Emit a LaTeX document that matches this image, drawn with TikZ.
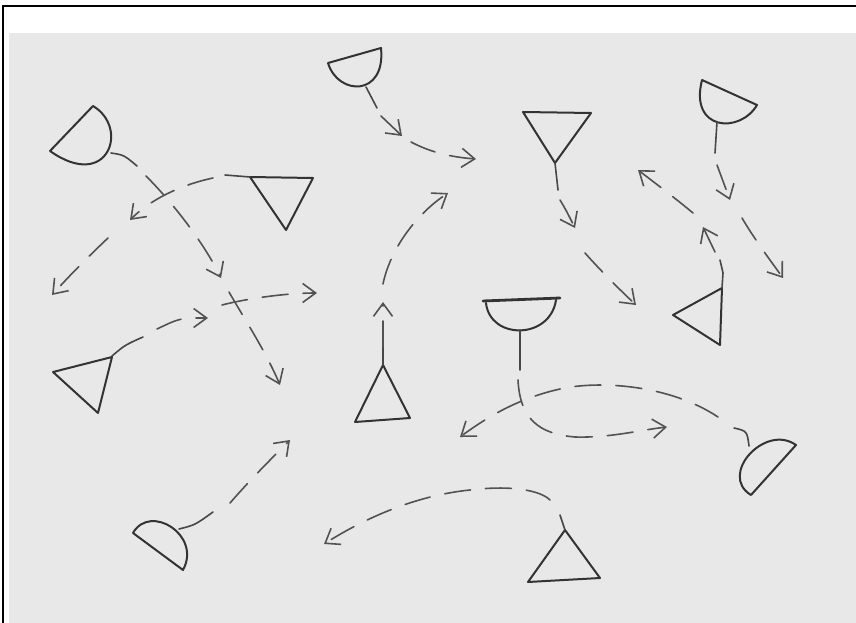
\documentclass[tikz,border=0pt]{standalone}
\usetikzlibrary{arrows.meta}
\begin{document}
\begin{tikzpicture}[
        x=1pt, y=-1pt,
        >={Straight Barb[length=13pt,width=19pt]},
        pencil/.style={line width=2pt, draw=black!80, line cap=round, line join=round},
        stem/.style={line width=1.6pt, draw=black!72, line cap=round},
        dashline/.style={line width=1.6pt, draw=black!68, line cap=round,
            dash pattern=on 26pt off 15pt, ->},
        ]
        % Paper and frame
        \useasboundingbox (0,0) rectangle (856,623);
        \fill[white] (0,0) rectangle (856,623);
        \fill[black!9] (9,33) rectangle (856,623);
        \draw[line width=2pt] (3,623) -- (3,6) -- (856,6);

        % Cups (half discs)
        \draw[pencil] (50,151) -- (93,106) .. controls (130,128) and (108,192) .. (50,151);
        \draw[pencil] (328,63) -- (381,48) .. controls (386,97) and (338,96) .. (328,63);
        \draw[pencil] (702,80) -- (757,105) .. controls (740,134) and (689,131) .. (702,80);
        \draw[pencil] (486,303) .. controls (490,340) and (550,340) .. (556,300);
        \draw[pencil, line width=2.8pt] (483,301) -- (560,298);
        \draw[pencil] (751,495) -- (796,445) .. controls (765,423) and (718,475) .. (751,495);
        \draw[pencil] (133,533) .. controls (150,503) and (202,535) .. (183,570) -- cycle;

        % Triangles
        \draw[pencil] (250,177) -- (313,178) -- (286,230) -- cycle;
        \draw[pencil] (523,112) -- (591,113) -- (555,163) -- cycle;
        \draw[pencil] (722,288) -- (673,315) -- (720,345) -- cycle;
        \draw[pencil] (53,372) -- (112,357) -- (98,413) -- cycle;
        \draw[pencil] (383,365) -- (355,422) -- (410,418) -- cycle;
        \draw[pencil] (565,530) -- (528,582) -- (600,578) -- cycle;

        % Ends of the stems and arrow tips
        \coordinate (a1) at (111,153);  \coordinate (a1s) at (137,166);
        \coordinate (a1m) at (221,278); \coordinate (a1e) at (280,385);
        \coordinate (a2) at (250,177);  \coordinate (a2s) at (225,175);
        \coordinate (a2m) at (130,220); \coordinate (a2e) at (52,295);
        \coordinate (a3) at (366,87);   \coordinate (a3s) at (377,108);
        \coordinate (a3m) at (402,136); \coordinate (a3e) at (476,159);
        \coordinate (a4) at (555,163);  \coordinate (a4s) at (558,190);
        \coordinate (a4m) at (575,228); \coordinate (a4e) at (636,305);
        \coordinate (a5) at (717,122);  \coordinate (a5s) at (715,153);
        \coordinate (a5m) at (730,200); \coordinate (a5e) at (783,278);
        \coordinate (a6) at (722,288);  \coordinate (a6s) at (720,260);
        \coordinate (a6m) at (703,227); \coordinate (a6e) at (638,170);
        \coordinate (a7) at (112,356);  \coordinate (a7s) at (143,337);
        \coordinate (a7m) at (208,318); \coordinate (a7e) at (317,293);
        \coordinate (a8) at (383,365);  \coordinate (a8s) at (383,333);
        \coordinate (a8m) at (383,302); \coordinate (a8e) at (448,193);
        \coordinate (a9) at (520,330);  \coordinate (a9s) at (520,370);
        \coordinate (a9e) at (667,427);
        \coordinate (a10) at (749,446); \coordinate (a10s) at (734,428);
        \coordinate (a10e) at (460,437);
        \coordinate (a11) at (179,529); \coordinate (a11s) at (213,512);
        \coordinate (a11e) at (290,440);
        \coordinate (a12) at (565,530); \coordinate (a12s) at (560,515);
        \coordinate (a12e) at (324,544);

        % Stems
        \draw[stem] (a1) .. controls (124,155) .. (a1s);
        \draw[stem] (a2) -- (a2s);
        \draw[stem] (a3) -- (a3s);
        \draw[stem] (a4) -- (a4s);
        \draw[stem] (a5) -- (a5s);
        \draw[stem] (a6) -- (723,273) -- (a6s);
        \draw[stem] (a7) .. controls (125,345) .. (a7s);
        \draw[stem] (a8) -- (a8s);
        \draw[stem] (a9) -- (a9s);
        \draw[stem] (a10) .. controls (747,431) .. (a10s);
        \draw[stem] (a11) .. controls (195,525) .. (a11s);
        \draw[stem] (a12) -- (a12s);

        % Dashed arrows, most with a second head half way
        \draw[dashline] (a1s) ++(9,10) .. controls (175,205) and (205,245) .. (a1m);
        \draw[dashline] (229,292) .. controls (245,320) and (265,350) .. (a1e);
        \draw[dashline] (a2s) ++(-12,3) .. controls (180,185) and (150,200) .. (a2m);
        \draw[dashline] (108,238) .. controls (90,255) and (70,275) .. (a2e);
        \draw[dashline] (a3s) ++(4,8) -- (a3m);
        \draw[dashline] (411,142) .. controls (430,152) and (450,157) .. (a3e);
        \draw[dashline] (a4s) ++(2,10) .. controls (566,210) .. (a4m);
        \draw[dashline] (585,253) .. controls (600,270) and (620,290) .. (a4e);
        \draw[dashline] (a5s) ++(2,12) -- (a5m);
        \draw[dashline] (742,218) .. controls (755,240) and (770,260) .. (a5e);
        \draw[dashline] (a6s) ++(-5,-8) -- (a6m);
        \draw[dashline] (693,213) .. controls (675,198) and (655,183) .. (a6e);
        \draw[dashline] (a7s) ++(14,-8) .. controls (180,318) .. (a7m);
        \draw[dashline] (222,305) .. controls (245,299) and (285,293) .. (a7e);
        \draw[dashline] (a8s) ++(0,14) -- (a8m);
        \draw[dashline] (383,284) .. controls (390,250) and (415,215) .. (a8e);
        \draw[dashline] (a9s) ++(-2,10) .. controls (520,420) and (540,434) .. (575,437)
            .. controls (610,438) and (640,430) .. (a9e);
        \draw[dashline] (a10s) ++(-16,-11) .. controls (670,385) and (600,380) .. (560,389)
            .. controls (520,398) and (490,415) .. (a10e);
        \draw[dashline] (a11s) ++(17,-9) .. controls (250,480) and (270,460) .. (a11e);
        \draw[dashline] (a12s) ++(-10,-15) .. controls (540,490) and (510,485) .. (470,490)
            .. controls (420,495) and (370,515) .. (a12e);
    \end{tikzpicture}
\end{document}
